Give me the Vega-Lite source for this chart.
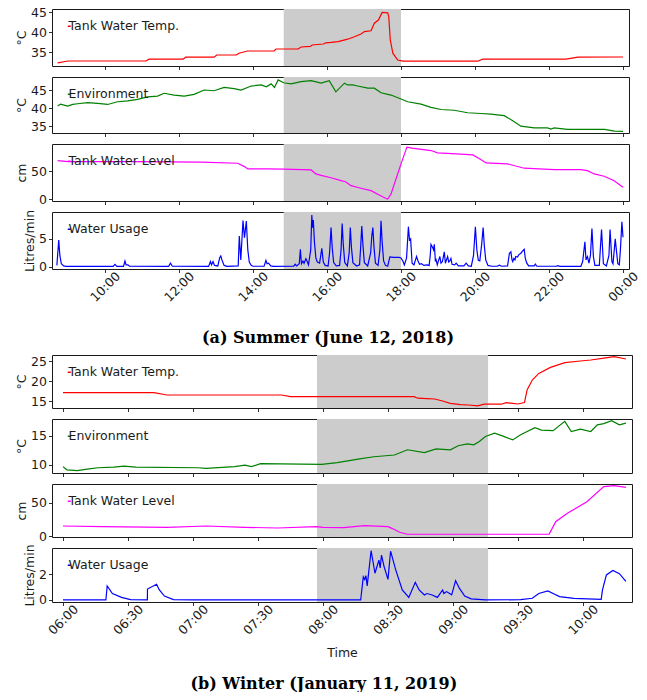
{
  "$schema": "https://vega.github.io/schema/vega-lite/v6.json",
  "padding": {"left": 15, "top": 5, "right": 5, "bottom": 0},
  "background": "white",
  "datasets": {
    "summer_shade": [{"hour": 14.83, "hour_end": 18.0}],
    "winter_shade": [{"hour": 7.954, "hour_end": 9.27}],
    "summer_temp": [
      {"hour": 8.72, "value": 32.3}, {"hour": 9.0, "value": 32.75}, {"hour": 11.11, "value": 32.75}, {"hour": 11.19, "value": 33.2},
      {"hour": 12.11, "value": 33.2}, {"hour": 12.18, "value": 33.7}, {"hour": 12.95, "value": 33.7}, {"hour": 13.02, "value": 34.25},
      {"hour": 13.55, "value": 34.25}, {"hour": 13.62, "value": 34.7}, {"hour": 13.75, "value": 35.0}, {"hour": 13.85, "value": 35.25},
      {"hour": 14.57, "value": 35.25}, {"hour": 14.62, "value": 35.75}, {"hour": 15.22, "value": 35.75}, {"hour": 15.3, "value": 36.25},
      {"hour": 15.55, "value": 36.4}, {"hour": 15.6, "value": 36.75}, {"hour": 15.9, "value": 37.0}, {"hour": 15.97, "value": 37.3},
      {"hour": 16.11, "value": 37.4}, {"hour": 16.3, "value": 37.6}, {"hour": 16.38, "value": 37.8}, {"hour": 16.56, "value": 38.2},
      {"hour": 16.74, "value": 38.8}, {"hour": 16.92, "value": 39.5}, {"hour": 17.01, "value": 40.1}, {"hour": 17.19, "value": 40.3},
      {"hour": 17.28, "value": 42.2}, {"hour": 17.39, "value": 43.0}, {"hour": 17.49, "value": 44.9}, {"hour": 17.64, "value": 44.8},
      {"hour": 17.67, "value": 43.8}, {"hour": 17.71, "value": 38.0}, {"hour": 17.78, "value": 34.7}, {"hour": 17.91, "value": 33.0},
      {"hour": 18.05, "value": 32.7}, {"hour": 20.07, "value": 32.7}, {"hour": 20.21, "value": 33.2}, {"hour": 22.46, "value": 33.2},
      {"hour": 22.78, "value": 33.7}, {"hour": 24.0, "value": 33.75}
    ],
    "summer_env": [
      {"hour": 8.72, "value": 40.55}, {"hour": 8.8, "value": 41.1}, {"hour": 8.99, "value": 40.55}, {"hour": 9.13, "value": 41.0},
      {"hour": 9.26, "value": 41.2}, {"hour": 9.53, "value": 41.5}, {"hour": 9.8, "value": 41.3}, {"hour": 10.07, "value": 41.0},
      {"hour": 10.34, "value": 41.75}, {"hour": 10.61, "value": 42.0}, {"hour": 10.88, "value": 42.4}, {"hour": 11.15, "value": 43.1},
      {"hour": 11.42, "value": 43.3}, {"hour": 11.6, "value": 44.1}, {"hour": 11.87, "value": 43.6}, {"hour": 12.14, "value": 43.3},
      {"hour": 12.41, "value": 43.8}, {"hour": 12.68, "value": 45.0}, {"hour": 12.95, "value": 44.8}, {"hour": 13.22, "value": 45.7},
      {"hour": 13.49, "value": 45.4}, {"hour": 13.68, "value": 45.0}, {"hour": 13.95, "value": 46.1}, {"hour": 14.22, "value": 46.4},
      {"hour": 14.36, "value": 45.9}, {"hour": 14.49, "value": 46.7}, {"hour": 14.58, "value": 45.7}, {"hour": 14.68, "value": 47.8},
      {"hour": 14.83, "value": 47.0}, {"hour": 15.03, "value": 46.7}, {"hour": 15.3, "value": 47.3}, {"hour": 15.57, "value": 47.6},
      {"hour": 15.84, "value": 46.9}, {"hour": 16.06, "value": 47.6}, {"hour": 16.24, "value": 44.5}, {"hour": 16.47, "value": 46.9},
      {"hour": 16.56, "value": 46.4}, {"hour": 16.69, "value": 46.4}, {"hour": 16.83, "value": 46.1}, {"hour": 17.1, "value": 45.5},
      {"hour": 17.28, "value": 45.5}, {"hour": 17.46, "value": 44.25}, {"hour": 17.73, "value": 43.6}, {"hour": 18.0, "value": 42.5},
      {"hour": 18.18, "value": 41.75}, {"hour": 18.54, "value": 41.1}, {"hour": 18.81, "value": 40.2}, {"hour": 19.08, "value": 39.6},
      {"hour": 19.44, "value": 39.4}, {"hour": 19.8, "value": 38.7}, {"hour": 20.16, "value": 38.5}, {"hour": 20.43, "value": 38.3},
      {"hour": 20.79, "value": 37.9}, {"hour": 21.02, "value": 36.5}, {"hour": 21.24, "value": 35.0}, {"hour": 21.6, "value": 34.5},
      {"hour": 21.96, "value": 34.5}, {"hour": 22.05, "value": 34.2}, {"hour": 22.14, "value": 34.5}, {"hour": 22.5, "value": 34.1},
      {"hour": 23.05, "value": 34.1}, {"hour": 23.5, "value": 34.1}, {"hour": 23.77, "value": 33.6}, {"hour": 24.0, "value": 33.55}
    ],
    "summer_level": [
      {"hour": 8.72, "value": 69.1}, {"hour": 9.0, "value": 67.3}, {"hour": 10.79, "value": 67.3}, {"hour": 12.59, "value": 66.2},
      {"hour": 13.59, "value": 64.4}, {"hour": 13.77, "value": 58.3}, {"hour": 13.86, "value": 54.2}, {"hour": 14.4, "value": 54.2},
      {"hour": 14.83, "value": 53.6}, {"hour": 15.57, "value": 52.3}, {"hour": 15.7, "value": 45.1}, {"hour": 15.84, "value": 42.6},
      {"hour": 16.11, "value": 38.3}, {"hour": 16.38, "value": 33.0}, {"hour": 16.5, "value": 31.0}, {"hour": 16.65, "value": 24.0},
      {"hour": 16.92, "value": 19.3}, {"hour": 17.19, "value": 15.0}, {"hour": 17.41, "value": 7.2}, {"hour": 17.6, "value": 1.0},
      {"hour": 17.64, "value": 0.0}, {"hour": 17.73, "value": 9.0}, {"hour": 18.0, "value": 63.2}, {"hour": 18.16, "value": 93.3},
      {"hour": 18.3, "value": 91.5}, {"hour": 18.81, "value": 87.2}, {"hour": 18.99, "value": 83.0}, {"hour": 19.5, "value": 81.2},
      {"hour": 19.94, "value": 79.4}, {"hour": 20.1, "value": 73.5}, {"hour": 20.3, "value": 65.0}, {"hour": 20.88, "value": 63.2},
      {"hour": 21.33, "value": 55.4}, {"hour": 22.14, "value": 52.9}, {"hour": 22.86, "value": 52.9}, {"hour": 23.04, "value": 51.1},
      {"hour": 23.22, "value": 45.1}, {"hour": 23.49, "value": 41.0}, {"hour": 23.76, "value": 33.0}, {"hour": 24.0, "value": 21.0}
    ],
    "summer_usage": [
      {"hour": 8.7, "value": 0.2}, {"hour": 8.75, "value": 4.8}, {"hour": 8.78, "value": 2.0}, {"hour": 8.82, "value": 0.5}, {"hour": 8.88, "value": 0.1}, {"hour": 8.95, "value": 0.02},
      {"hour": 10.22, "value": 0.02}, {"hour": 10.27, "value": 0.4}, {"hour": 10.32, "value": 0.02},
      {"hour": 10.5, "value": 0.02}, {"hour": 10.54, "value": 1.0}, {"hour": 10.57, "value": 0.3}, {"hour": 10.62, "value": 0.3}, {"hour": 10.66, "value": 0.05},
      {"hour": 11.72, "value": 0.02}, {"hour": 11.77, "value": 0.6}, {"hour": 11.82, "value": 0.05},
      {"hour": 12.8, "value": 0.02}, {"hour": 12.85, "value": 0.9}, {"hour": 12.88, "value": 0.3}, {"hour": 12.92, "value": 0.9}, {"hour": 12.96, "value": 0.2},
      {"hour": 13.05, "value": 0.1}, {"hour": 13.1, "value": 1.6}, {"hour": 13.13, "value": 1.9}, {"hour": 13.16, "value": 1.2}, {"hour": 13.22, "value": 0.2}, {"hour": 13.3, "value": 0.02},
      {"hour": 13.6, "value": 0.1}, {"hour": 13.63, "value": 5.5}, {"hour": 13.67, "value": 1.2}, {"hour": 13.73, "value": 8.3}, {"hour": 13.77, "value": 5.2},
      {"hour": 13.82, "value": 8.2}, {"hour": 13.86, "value": 3.0}, {"hour": 13.9, "value": 0.8}, {"hour": 13.95, "value": 0.2}, {"hour": 14.0, "value": 0.05},
      {"hour": 14.3, "value": 0.05}, {"hour": 14.35, "value": 1.1}, {"hour": 14.38, "value": 0.5}, {"hour": 14.42, "value": 0.6}, {"hour": 14.48, "value": 0.1}, {"hour": 14.55, "value": 0.02},
      {"hour": 15.1, "value": 0.05}, {"hour": 15.14, "value": 0.4}, {"hour": 15.18, "value": 0.1}, {"hour": 15.25, "value": 0.5}, {"hour": 15.28, "value": 3.1},
      {"hour": 15.31, "value": 0.5}, {"hour": 15.35, "value": 1.0}, {"hour": 15.38, "value": 0.6}, {"hour": 15.43, "value": 1.4}, {"hour": 15.46, "value": 1.0},
      {"hour": 15.5, "value": 0.3}, {"hour": 15.56, "value": 3.0}, {"hour": 15.59, "value": 9.3}, {"hour": 15.61, "value": 7.0}, {"hour": 15.63, "value": 8.4},
      {"hour": 15.66, "value": 4.5}, {"hour": 15.7, "value": 1.5}, {"hour": 15.74, "value": 0.8}, {"hour": 15.8, "value": 0.6}, {"hour": 15.86, "value": 3.3},
      {"hour": 15.9, "value": 0.8}, {"hour": 15.95, "value": 0.2},
      {"hour": 16.03, "value": 0.1}, {"hour": 16.07, "value": 2.5}, {"hour": 16.11, "value": 7.05}, {"hour": 16.14, "value": 3.5}, {"hour": 16.18, "value": 0.7}, {"hour": 16.25, "value": 0.1},
      {"hour": 16.34, "value": 0.2}, {"hour": 16.38, "value": 3.0}, {"hour": 16.41, "value": 7.76}, {"hour": 16.44, "value": 4.0}, {"hour": 16.48, "value": 0.7}, {"hour": 16.55, "value": 0.1},
      {"hour": 16.6, "value": 2.5}, {"hour": 16.63, "value": 7.05}, {"hour": 16.66, "value": 3.5}, {"hour": 16.7, "value": 0.7}, {"hour": 16.8, "value": 0.1},
      {"hour": 16.88, "value": 0.3}, {"hour": 16.91, "value": 3.5}, {"hour": 16.94, "value": 7.3}, {"hour": 16.97, "value": 4.0}, {"hour": 17.01, "value": 0.7}, {"hour": 17.1, "value": 0.1},
      {"hour": 17.18, "value": 2.5}, {"hour": 17.21, "value": 5.5}, {"hour": 17.24, "value": 7.05}, {"hour": 17.27, "value": 3.5}, {"hour": 17.31, "value": 0.6}, {"hour": 17.38, "value": 0.2},
      {"hour": 17.43, "value": 3.0}, {"hour": 17.46, "value": 8.25}, {"hour": 17.49, "value": 4.5}, {"hour": 17.53, "value": 1.0}, {"hour": 17.58, "value": 0.2}, {"hour": 17.64, "value": 0.05},
      {"hour": 17.7, "value": 1.75}, {"hour": 17.8, "value": 1.65}, {"hour": 17.95, "value": 1.65}, {"hour": 18.0, "value": 1.55}, {"hour": 18.05, "value": 1.0}, {"hour": 18.09, "value": 0.3},
      {"hour": 18.15, "value": 1.5}, {"hour": 18.2, "value": 7.2}, {"hour": 18.23, "value": 4.8}, {"hour": 18.26, "value": 5.0}, {"hour": 18.3, "value": 0.6}, {"hour": 18.35, "value": 0.3},
      {"hour": 18.42, "value": 1.8}, {"hour": 18.46, "value": 1.0}, {"hour": 18.5, "value": 0.4}, {"hour": 18.55, "value": 0.5}, {"hour": 18.62, "value": 0.2}, {"hour": 18.7, "value": 0.3},
      {"hour": 18.76, "value": 0.2}, {"hour": 18.79, "value": 2.0}, {"hour": 18.81, "value": 4.0}, {"hour": 18.85, "value": 3.5}, {"hour": 18.88, "value": 3.0}, {"hour": 18.9, "value": 4.0},
      {"hour": 18.93, "value": 0.9}, {"hour": 18.95, "value": 1.2}, {"hour": 18.98, "value": 0.3}, {"hour": 19.02, "value": 1.2}, {"hour": 19.05, "value": 1.8}, {"hour": 19.08, "value": 0.6},
      {"hour": 19.12, "value": 0.9}, {"hour": 19.17, "value": 2.65}, {"hour": 19.2, "value": 0.6}, {"hour": 19.23, "value": 1.2}, {"hour": 19.26, "value": 1.8}, {"hour": 19.29, "value": 0.8},
      {"hour": 19.32, "value": 1.0}, {"hour": 19.35, "value": 1.45}, {"hour": 19.38, "value": 0.4}, {"hour": 19.45, "value": 0.3}, {"hour": 19.49, "value": 0.6}, {"hour": 19.55, "value": 0.1},
      {"hour": 19.7, "value": 0.1}, {"hour": 19.76, "value": 0.6}, {"hour": 19.82, "value": 0.1}, {"hour": 19.9, "value": 0.05}, {"hour": 19.96, "value": 2.0}, {"hour": 20.01, "value": 7.2},
      {"hour": 20.05, "value": 3.0}, {"hour": 20.09, "value": 1.1}, {"hour": 20.13, "value": 1.0}, {"hour": 20.18, "value": 4.0}, {"hour": 20.22, "value": 7.05}, {"hour": 20.25, "value": 3.9},
      {"hour": 20.29, "value": 1.2}, {"hour": 20.35, "value": 0.2}, {"hour": 20.45, "value": 0.05}, {"hour": 20.6, "value": 0.05}, {"hour": 20.66, "value": 0.25}, {"hour": 20.72, "value": 0.05},
      {"hour": 20.88, "value": 0.1}, {"hour": 20.93, "value": 2.4}, {"hour": 20.97, "value": 2.65}, {"hour": 21.0, "value": 1.2}, {"hour": 21.02, "value": 0.9}, {"hour": 21.05, "value": 1.45},
      {"hour": 21.08, "value": 1.2}, {"hour": 21.1, "value": 1.8}, {"hour": 21.15, "value": 1.7}, {"hour": 21.18, "value": 2.1}, {"hour": 21.24, "value": 2.4}, {"hour": 21.3, "value": 2.9},
      {"hour": 21.33, "value": 3.1}, {"hour": 21.36, "value": 1.45}, {"hour": 21.4, "value": 0.6}, {"hour": 21.45, "value": 0.1}, {"hour": 21.6, "value": 0.1}, {"hour": 21.63, "value": 0.45},
      {"hour": 21.67, "value": 0.05}, {"hour": 22.2, "value": 0.05}, {"hour": 22.23, "value": 0.15}, {"hour": 22.3, "value": 0.02}, {"hour": 22.86, "value": 0.02}, {"hour": 22.91, "value": 0.9},
      {"hour": 22.97, "value": 4.46}, {"hour": 23.0, "value": 1.2}, {"hour": 23.04, "value": 1.8}, {"hour": 23.08, "value": 0.6}, {"hour": 23.12, "value": 2.0}, {"hour": 23.16, "value": 6.85},
      {"hour": 23.2, "value": 1.8}, {"hour": 23.24, "value": 0.2}, {"hour": 23.36, "value": 0.2}, {"hour": 23.42, "value": 6.7}, {"hour": 23.47, "value": 0.5}, {"hour": 23.55, "value": 0.1},
      {"hour": 23.62, "value": 2.0}, {"hour": 23.65, "value": 6.7}, {"hour": 23.7, "value": 0.9}, {"hour": 23.73, "value": 0.5}, {"hour": 23.79, "value": 5.0}, {"hour": 23.82, "value": 3.0},
      {"hour": 23.86, "value": 0.5}, {"hour": 23.9, "value": 0.3}, {"hour": 23.93, "value": 3.0}, {"hour": 23.97, "value": 8.1}, {"hour": 24.0, "value": 5.3}
    ],
    "winter_temp": [
      {"hour": 6.0, "value": 17.1}, {"hour": 6.7, "value": 17.1}, {"hour": 6.8, "value": 16.5}, {"hour": 7.68, "value": 16.5},
      {"hour": 7.75, "value": 16.1}, {"hour": 8.7, "value": 16.1}, {"hour": 8.73, "value": 15.7}, {"hour": 8.8, "value": 15.6},
      {"hour": 8.86, "value": 15.5}, {"hour": 8.92, "value": 15.0}, {"hour": 8.98, "value": 14.4}, {"hour": 9.06, "value": 14.1},
      {"hour": 9.12, "value": 14.0}, {"hour": 9.19, "value": 13.8}, {"hour": 9.24, "value": 14.2}, {"hour": 9.37, "value": 14.2},
      {"hour": 9.41, "value": 14.6}, {"hour": 9.46, "value": 14.4}, {"hour": 9.5, "value": 14.25}, {"hour": 9.55, "value": 14.6},
      {"hour": 9.57, "value": 17.75}, {"hour": 9.61, "value": 20.25}, {"hour": 9.66, "value": 21.9}, {"hour": 9.75, "value": 23.4},
      {"hour": 9.86, "value": 24.6}, {"hour": 9.98, "value": 25.0}, {"hour": 10.06, "value": 25.25}, {"hour": 10.16, "value": 25.7},
      {"hour": 10.24, "value": 26.1}, {"hour": 10.33, "value": 25.5}
    ],
    "winter_env": [
      {"hour": 6.0, "value": 9.7}, {"hour": 6.03, "value": 9.15}, {"hour": 6.11, "value": 9.0}, {"hour": 6.2, "value": 9.3},
      {"hour": 6.27, "value": 9.5}, {"hour": 6.39, "value": 9.6}, {"hour": 6.47, "value": 9.8}, {"hour": 6.56, "value": 9.6},
      {"hour": 7.04, "value": 9.5}, {"hour": 7.1, "value": 9.4}, {"hour": 7.32, "value": 9.7}, {"hour": 7.4, "value": 9.95},
      {"hour": 7.45, "value": 9.7}, {"hour": 7.52, "value": 10.2}, {"hour": 7.99, "value": 10.1}, {"hour": 8.11, "value": 10.4},
      {"hour": 8.27, "value": 11.0}, {"hour": 8.39, "value": 11.4}, {"hour": 8.55, "value": 11.7}, {"hour": 8.65, "value": 12.6},
      {"hour": 8.78, "value": 12.1}, {"hour": 8.87, "value": 12.75}, {"hour": 8.98, "value": 12.6}, {"hour": 9.04, "value": 13.3},
      {"hour": 9.11, "value": 13.6}, {"hour": 9.16, "value": 13.45}, {"hour": 9.2, "value": 14.0}, {"hour": 9.25, "value": 14.9},
      {"hour": 9.32, "value": 15.45}, {"hour": 9.38, "value": 15.0}, {"hour": 9.46, "value": 14.3}, {"hour": 9.52, "value": 15.2},
      {"hour": 9.63, "value": 16.4}, {"hour": 9.68, "value": 16.0}, {"hour": 9.77, "value": 15.9}, {"hour": 9.86, "value": 17.5},
      {"hour": 9.91, "value": 15.75}, {"hour": 9.98, "value": 16.15}, {"hour": 10.06, "value": 15.75}, {"hour": 10.11, "value": 16.9},
      {"hour": 10.16, "value": 17.1}, {"hour": 10.22, "value": 17.6}, {"hour": 10.28, "value": 16.9}, {"hour": 10.33, "value": 17.2}
    ],
    "winter_level": [
      {"hour": 6.0, "value": 15}, {"hour": 6.3, "value": 14}, {"hour": 6.8, "value": 13}, {"hour": 7.1, "value": 15},
      {"hour": 7.4, "value": 13}, {"hour": 7.65, "value": 12}, {"hour": 7.95, "value": 14}, {"hour": 8.0, "value": 13},
      {"hour": 8.16, "value": 12.5}, {"hour": 8.32, "value": 15.5}, {"hour": 8.5, "value": 14}, {"hour": 8.53, "value": 11.5},
      {"hour": 8.59, "value": 5.6}, {"hour": 8.65, "value": 2.6}, {"hour": 9.01, "value": 2.6}, {"hour": 9.52, "value": 2.6},
      {"hour": 9.74, "value": 2.9}, {"hour": 9.79, "value": 21.5}, {"hour": 9.88, "value": 34}, {"hour": 10.03, "value": 51.5},
      {"hour": 10.16, "value": 74}, {"hour": 10.24, "value": 75.5}, {"hour": 10.33, "value": 73}
    ],
    "winter_usage": [
      {"hour": 6.0, "value": 0.0}, {"hour": 6.33, "value": 0.0}, {"hour": 6.34, "value": 1.09}, {"hour": 6.38, "value": 0.5},
      {"hour": 6.45, "value": 0.2}, {"hour": 6.52, "value": 0.03}, {"hour": 6.649, "value": 0.0}, {"hour": 6.65, "value": 0.85},
      {"hour": 6.72, "value": 1.22}, {"hour": 6.74, "value": 0.8}, {"hour": 6.78, "value": 0.3}, {"hour": 6.85, "value": 0.03},
      {"hour": 7.0, "value": 0.0}, {"hour": 8.29, "value": 0.0}, {"hour": 8.31, "value": 1.8}, {"hour": 8.32, "value": 1.6},
      {"hour": 8.33, "value": 1.9}, {"hour": 8.34, "value": 1.1}, {"hour": 8.37, "value": 3.84}, {"hour": 8.4, "value": 2.08},
      {"hour": 8.43, "value": 3.1}, {"hour": 8.44, "value": 2.5}, {"hour": 8.45, "value": 3.5}, {"hour": 8.47, "value": 2.6},
      {"hour": 8.5, "value": 1.6}, {"hour": 8.52, "value": 3.8}, {"hour": 8.56, "value": 2.33}, {"hour": 8.61, "value": 0.78},
      {"hour": 8.66, "value": 0.2}, {"hour": 8.71, "value": 1.37}, {"hour": 8.74, "value": 0.78}, {"hour": 8.78, "value": 0.39},
      {"hour": 8.8, "value": 0.5}, {"hour": 8.84, "value": 0.39}, {"hour": 8.88, "value": 0.2}, {"hour": 8.92, "value": 0.78},
      {"hour": 8.93, "value": 0.5}, {"hour": 8.95, "value": 0.65}, {"hour": 8.99, "value": 0.4}, {"hour": 9.02, "value": 1.5},
      {"hour": 9.05, "value": 0.9}, {"hour": 9.09, "value": 0.3}, {"hour": 9.14, "value": 0.08}, {"hour": 9.25, "value": 0.0},
      {"hour": 9.52, "value": 0.02}, {"hour": 9.61, "value": 0.13}, {"hour": 9.66, "value": 0.5}, {"hour": 9.73, "value": 0.7},
      {"hour": 9.77, "value": 0.5}, {"hour": 9.82, "value": 0.26}, {"hour": 9.93, "value": 0.13}, {"hour": 10.14, "value": 0.05},
      {"hour": 10.15, "value": 0.78}, {"hour": 10.18, "value": 1.95}, {"hour": 10.23, "value": 2.3}, {"hour": 10.28, "value": 2.05},
      {"hour": 10.33, "value": 1.45}
    ]
  },
  "vconcat": [
    {
      "title": {"text": "(a) Summer (June 12, 2018)", "orient": "bottom", "anchor": "middle", "offset": 26},
      "spacing": 11,
      "bounds": "flush",
      "resolve": {"scale": {"color": "independent", "x": "independent", "y": "independent"}, "legend": {"color": "independent"}},
      "vconcat": [
        {
          "width": 577, "height": 57,
          "encoding": {"x": {"field": "hour", "type": "quantitative", "scale": {"domain": [8.568, 24.162], "nice": false, "zero": false}, "axis": {"values": [10, 12, 14, 16, 18, 20, 22, 24], "labels": false, "title": null}}},
          "layer": [
            {"data": {"name": "summer_shade"}, "mark": {"type": "rect", "color": "#cccccc"}, "encoding": {"x2": {"field": "hour_end"}}},
            {"data": {"name": "summer_temp"}, "mark": {"type": "line", "strokeWidth": 1.2},
             "encoding": {
               "y": {"field": "value", "type": "quantitative", "scale": {"domain": [31.5, 45.75], "nice": false, "zero": false}, "axis": {"values": [35, 40, 45], "title": "°C"}},
               "color": {"datum": "Tank Water Temp.", "scale": {"range": ["#ff0000"]}, "legend": {"title": null}}}}
          ]
        },
        {
          "width": 577, "height": 56,
          "encoding": {"x": {"field": "hour", "type": "quantitative", "scale": {"domain": [8.568, 24.162], "nice": false, "zero": false}, "axis": {"values": [10, 12, 14, 16, 18, 20, 22, 24], "labels": false, "title": null}}},
          "layer": [
            {"data": {"name": "summer_shade"}, "mark": {"type": "rect", "color": "#cccccc"}, "encoding": {"x2": {"field": "hour_end"}}},
            {"data": {"name": "summer_env"}, "mark": {"type": "line", "strokeWidth": 1.2},
             "encoding": {
               "y": {"field": "value", "type": "quantitative", "scale": {"domain": [33.1, 48.6], "nice": false, "zero": false}, "axis": {"values": [35, 40, 45], "title": "°C"}},
               "color": {"datum": "Environment", "scale": {"range": ["#008000"]}, "legend": {"title": null}}}}
          ]
        },
        {
          "width": 577, "height": 57,
          "encoding": {"x": {"field": "hour", "type": "quantitative", "scale": {"domain": [8.568, 24.162], "nice": false, "zero": false}, "axis": {"values": [10, 12, 14, 16, 18, 20, 22, 24], "labels": false, "title": null}}},
          "layer": [
            {"data": {"name": "summer_shade"}, "mark": {"type": "rect", "color": "#cccccc"}, "encoding": {"x2": {"field": "hour_end"}}},
            {"data": {"name": "summer_level"}, "mark": {"type": "line", "strokeWidth": 1.2},
             "encoding": {
               "y": {"field": "value", "type": "quantitative", "scale": {"domain": [-3.6, 99], "nice": false, "zero": false}, "axis": {"values": [0, 50], "title": "cm"}},
               "color": {"datum": "Tank Water Level", "scale": {"range": ["#ff00ff"]}, "legend": {"title": null}}}}
          ]
        },
        {
          "width": 577, "height": 57,
          "encoding": {"x": {"field": "hour", "type": "quantitative", "scale": {"domain": [8.568, 24.162], "nice": false, "zero": false}, "axis": {"values": [10, 12, 14, 16, 18, 20, 22, 24], "title": null, "labelPadding": 14, "labelExpr": "(datum.value % 24 < 10 ? '0' : '') + (datum.value % 24) + ':00'"}}},
          "layer": [
            {"data": {"name": "summer_shade"}, "mark": {"type": "rect", "color": "#cccccc"}, "encoding": {"x2": {"field": "hour_end"}}},
            {"data": {"name": "summer_usage"}, "mark": {"type": "line", "strokeWidth": 1.2},
             "encoding": {
               "y": {"field": "value", "type": "quantitative", "scale": {"domain": [-0.45, 9.85], "nice": false, "zero": false}, "axis": {"values": [0, 5], "title": "Litres/min"}},
               "color": {"datum": "Water Usage", "scale": {"range": ["#0000ff"]}, "legend": {"title": null}}}}
          ]
        }
      ]
    },
    {
      "title": {"text": "(b) Winter (January 11, 2019)", "orient": "bottom", "anchor": "middle", "offset": 16},
      "spacing": 11,
      "bounds": "flush",
      "resolve": {"scale": {"color": "independent", "x": "independent", "y": "independent"}, "legend": {"color": "independent"}},
      "vconcat": [
        {
          "width": 580, "height": 53,
          "encoding": {"x": {"field": "hour", "type": "quantitative", "scale": {"domain": [5.9155, 10.377], "nice": false, "zero": false}, "axis": {"values": [6, 6.5, 7, 7.5, 8, 8.5, 9, 9.5, 10], "labels": false, "title": null}}},
          "layer": [
            {"data": {"name": "winter_shade"}, "mark": {"type": "rect", "color": "#cccccc"}, "encoding": {"x2": {"field": "hour_end"}}},
            {"data": {"name": "winter_temp"}, "mark": {"type": "line", "strokeWidth": 1.2},
             "encoding": {
               "y": {"field": "value", "type": "quantitative", "scale": {"domain": [13.25, 26.5], "nice": false, "zero": false}, "axis": {"values": [15, 20, 25], "title": "°C"}},
               "color": {"datum": "Tank Water Temp.", "scale": {"range": ["#ff0000"]}, "legend": {"title": null}}}}
          ]
        },
        {
          "width": 580, "height": 54,
          "encoding": {"x": {"field": "hour", "type": "quantitative", "scale": {"domain": [5.9155, 10.377], "nice": false, "zero": false}, "axis": {"values": [6, 6.5, 7, 7.5, 8, 8.5, 9, 9.5, 10], "labels": false, "title": null}}},
          "layer": [
            {"data": {"name": "winter_shade"}, "mark": {"type": "rect", "color": "#cccccc"}, "encoding": {"x2": {"field": "hour_end"}}},
            {"data": {"name": "winter_env"}, "mark": {"type": "line", "strokeWidth": 1.2},
             "encoding": {
               "y": {"field": "value", "type": "quantitative", "scale": {"domain": [8.6, 17.9], "nice": false, "zero": false}, "axis": {"values": [10, 15], "title": "°C"}},
               "color": {"datum": "Environment", "scale": {"range": ["#008000"]}, "legend": {"title": null}}}}
          ]
        },
        {
          "width": 580, "height": 53,
          "encoding": {"x": {"field": "hour", "type": "quantitative", "scale": {"domain": [5.9155, 10.377], "nice": false, "zero": false}, "axis": {"values": [6, 6.5, 7, 7.5, 8, 8.5, 9, 9.5, 10], "labels": false, "title": null}}},
          "layer": [
            {"data": {"name": "winter_shade"}, "mark": {"type": "rect", "color": "#cccccc"}, "encoding": {"x2": {"field": "hour_end"}}},
            {"data": {"name": "winter_level"}, "mark": {"type": "line", "strokeWidth": 1.2},
             "encoding": {
               "y": {"field": "value", "type": "quantitative", "scale": {"domain": [-1.5, 78], "nice": false, "zero": false}, "axis": {"values": [0, 50], "title": "cm"}},
               "color": {"datum": "Tank Water Level", "scale": {"range": ["#ff00ff"]}, "legend": {"title": null}}}}
          ]
        },
        {
          "width": 580, "height": 54,
          "encoding": {"x": {"field": "hour", "type": "quantitative", "scale": {"domain": [5.9155, 10.377], "nice": false, "zero": false}, "axis": {"values": [6, 6.5, 7, 7.5, 8, 8.5, 9, 9.5, 10], "title": "Time", "titlePadding": 10, "labelPadding": 14, "labelExpr": "(floor(datum.value) < 10 ? '0' : '') + floor(datum.value) + ((datum.value % 1) > 0 ? ':30' : ':00')"}}},
          "layer": [
            {"data": {"name": "winter_shade"}, "mark": {"type": "rect", "color": "#cccccc"}, "encoding": {"x2": {"field": "hour_end"}}},
            {"data": {"name": "winter_usage"}, "mark": {"type": "line", "strokeWidth": 1.2},
             "encoding": {
               "y": {"field": "value", "type": "quantitative", "scale": {"domain": [-0.16, 4.05], "nice": false, "zero": false}, "axis": {"values": [0, 2], "title": "Litres/min"}},
               "color": {"datum": "Water Usage", "scale": {"range": ["#0000ff"]}, "legend": {"title": null}}}}
          ]
        }
      ]
    }
  ],
  "spacing": 6,
  "align": "none",
  "resolve": {"scale": {"color": "independent", "x": "independent", "y": "independent"}, "legend": {"color": "independent"}},
  "config": {
    "font": "DejaVu Sans",
    "view": {"stroke": "#1a1a1a", "strokeWidth": 1},
    "axis": {"domain": false, "grid": false, "tickSize": 3.5, "tickColor": "#1a1a1a", "tickWidth": 0.9, "labelFont": "DejaVu Sans", "labelFontSize": 12.5, "labelColor": "#1a1a1a", "titleFont": "DejaVu Sans", "titleFontSize": 12.5, "titleFontWeight": "normal", "titleColor": "#1a1a1a", "labelOverlap": false, "labelFlush": false, "labelBound": false},
    "axisY": {"labelPadding": 2, "titlePadding": 2},
    "axisX": {"labelAngle": -45, "labelAlign": "center", "labelBaseline": "middle", "labelPadding": 0, "titlePadding": 4},
    "legend": {"orient": "top-left", "offset": 11, "padding": 0, "symbolType": "stroke", "symbolSize": 9, "symbolStrokeWidth": 1.5, "labelFont": "DejaVu Sans", "labelFontSize": 12.5, "labelColor": "#1a1a1a", "labelOffset": -7},
    "title": {"font": "DejaVu Serif", "fontSize": 16, "fontWeight": "bold", "color": "#000000"}
  }
}
